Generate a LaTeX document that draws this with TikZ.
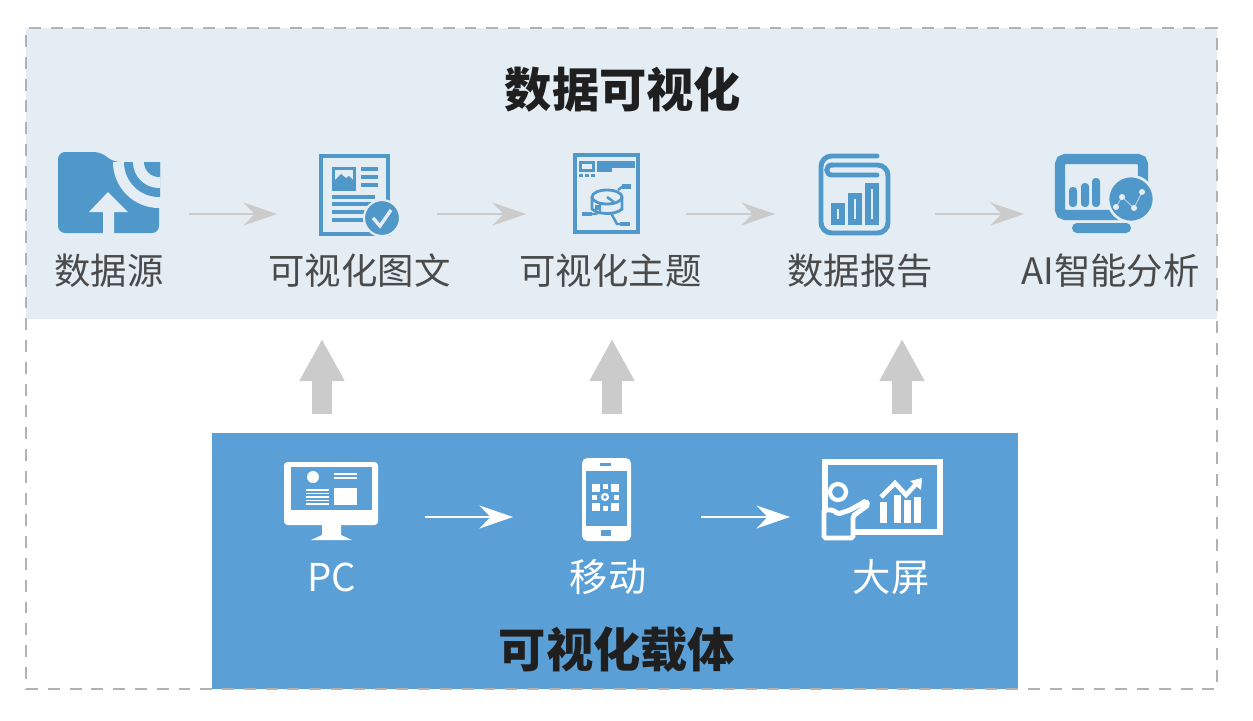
\documentclass[tikz,border=0pt]{standalone}
\usepackage{fontspec}
\setmainfont{Noto Sans CJK SC}
\definecolor{bandbg}{HTML}{E3EDF3}
\definecolor{carrierblue}{HTML}{5AA0D6}
\definecolor{iconblue}{HTML}{5098C9}
\definecolor{flowgray}{HTML}{CBCBCB}
\definecolor{labelgray}{HTML}{4A4A4A}
\usetikzlibrary{arrows.meta, positioning, calc}

\begin{document}
\begin{tikzpicture}[x=0.02cm, y=-0.02cm,
    panel/.style={rectangle, inner sep=0pt, outer sep=0pt},
    slot/.style={rectangle, inner sep=0pt, outer sep=0pt, minimum height=4pt},
    heading/.style={font=\bfseries\fontsize{26.9}{30}\selectfont, text=black!88, inner sep=0pt},
    toplabel/.style={font=\fontsize{20.7}{24}\selectfont, text=labelgray, inner sep=0pt},
    lowlabel/.style={font=\fontsize{21.8}{24}\selectfont, text=white, inner sep=0pt},
    flow/.style={-{Stealth[length=19pt, width=13pt]}, line width=1.5pt, draw=flowgray},
    flowwhite/.style={flow, draw=white},
    blockup/.style={-{Triangle[length=24pt, width=24pt]}, line width=11.3pt, draw=flowgray,
                    shorten <=10.8pt, shorten >=11.3pt},
    iconline/.style={draw=iconblue, line width=2pt},
    whiteline/.style={draw=white, line width=1.7pt}]
  \useasboundingbox (0,0) rectangle (1253,720);

  \node[panel, fill=bandbg, minimum width=1191*0.02cm, minimum height=291*0.02cm] (band) at (621.5,173.5) {};
  \node[panel, fill=carrierblue, minimum width=806*0.02cm, minimum height=256*0.02cm] (carrier) at (615,561) {};
  \node[panel, draw=black!30, dash pattern=on 6.8pt off 5.6pt, line width=1.1pt, minimum width=1191*0.02cm, minimum height=661*0.02cm] (frame) at (621.5,358.5) {};

  \node[heading] (bandtitle) at (623,90) {数据可视化};
  \node[heading] (carriertitle) at (617,650) {可视化载体};

  % slots the arrows run between
  \node[slot, minimum width=160*0.02cm] (source) at (109,214) {};
  \node[slot, minimum width=160*0.02cm] (graphic) at (357,214) {};
  \node[slot, minimum width=160*0.02cm] (topic) at (606,214) {};
  \node[slot, minimum width=160*0.02cm] (report) at (855,214) {};
  \node[slot, minimum width=160*0.02cm] (analysis) at (1104,214) {};
  \node[slot, minimum width=188*0.02cm] (pc) at (331,517) {};
  \node[slot, minimum width=188*0.02cm] (mobile) at (607,517) {};
  \node[slot, minimum width=180*0.02cm] (screen) at (880,517) {};

  \draw[flow] (source) -- (graphic);
  \draw[flow] (graphic) -- (topic);
  \draw[flow] (topic) -- (report);
  \draw[flow] (report) -- (analysis);
  \draw[flowwhite] (pc) -- (mobile);
  \draw[flowwhite] (mobile) -- (screen);
  \foreach \x in {322,612,902}
    \draw[blockup] (\x,0 |- carrier.north) -- (\x,0 |- band.south);

  \node[toplabel] (sourcelabel) at (109,271) {数据源};
  \node[toplabel] (graphiclabel) at (359.5,271) {可视化图文};
  \node[toplabel] (topiclabel) at (610.5,271) {可视化主题};
  \node[toplabel] (reportlabel) at (860,271) {数据报告};
  \node[toplabel] (analysislabel) at (1110.5,271) {AI智能分析};
  \node[lowlabel] (pclabel) at (332,577) {PC};
  \node[lowlabel] (mobilelabel) at (608,577) {移动};
  \node[lowlabel] (screenlabel) at (891,577) {大屏};

  % source icon
  \fill[iconblue, rounded corners=4pt] (58,152) -- (101,152) -- (113,162) -- (159,162) -- (159,233) -- (58,233) -- cycle;
  \begin{scope}
    \clip (100,162) rectangle (160,234);
    \fill[bandbg] (159,162) circle[radius=46];
    \fill[iconblue] (159,162) circle[radius=35];
    \fill[bandbg] (159,162) circle[radius=26];
    \fill[iconblue] (159,162) circle[radius=15];
  \end{scope}
  \fill[bandbg] (108,192) -- (128,212) -- (114,212) -- (114,234) -- (103,234) -- (103,212) -- (89,212) -- cycle;

  % graphic icon
  \draw[iconline, line width=2.4pt] (321,156) rectangle (388,234);
  \fill[iconblue] (332,167) rectangle (356,191);
  \fill[bandbg] (335,170) rectangle (353,180);
  \fill[iconblue] (335,180) -- (341,174) -- (346,178) -- (349,176) -- (353,180) -- cycle;
  \foreach \y in {169,177,185}
    \draw[iconline] (361,\y) -- (378,\y);
  \foreach \y in {197,204,212,220}
    \draw[iconline] (332,\y) -- (375,\y);
  \fill[iconblue, draw=bandbg, line width=1.2pt] (382,218) circle[radius=18];
  \draw[bandbg, line width=1.9pt] (373,218) -- (380,226) -- (391,210);

  % topic icon
  \draw[iconline, line width=1.9pt] (575,155) rectangle (638,232);
  \fill[iconblue] (579,161) rectangle (595,172);
  \fill[bandbg] (582,164) rectangle (592,169);
  \fill[iconblue] (597,161) rectangle (635,168);
  \fill[iconblue] (597,168) rectangle (612,172);
  \foreach \x in {579,585,591}
    \fill[iconblue] (\x,174) rectangle +(4,3);
  \draw[iconline, line width=1.4pt] (618,190) -- (622,187) -- (630,187);
  \fill[iconblue] (622,184) rectangle (631,189);
  \draw[iconline, line width=1.4pt] (611,213) -- (617,224) -- (629,224);
  \fill[iconblue] (620,222) rectangle (630,226);
  \draw[iconline, line width=1.4pt] (600,212) -- (595,214) -- (583,214);
  \fill[iconblue] (582,212) rectangle (592,216);
  \draw[iconline, fill=bandbg, line width=1.6pt] (592,197) -- (592,209) .. controls (598,215) and (616,215) .. (622,209) -- (622,197);
  \draw[iconline, fill=bandbg, line width=1.6pt] (607,197) ellipse[x radius=15, y radius=7];
  \draw[iconline, line width=1.4pt] (600,203) -- (600,212) (607,197) -- (614,202);
  \fill[iconblue] (595,205) rectangle (599,210);

  % report icon
  \draw[iconline, line width=2.8pt, line cap=round, rounded corners=6pt] (877,156) -- (821,156) -- (821,233) -- (888,233) -- (888,165) -- (832,165);
  \draw[iconline, line width=2.8pt, line cap=round] (832,165) .. controls (825,165) and (825,175) .. (832,175) -- (877,175);
  \foreach \x/\y in {831/203,848/193,865/183}{
    \fill[iconblue] (\x,\y) rectangle (\x+14,225);
    \draw[bandbg, line width=0.6pt] (\x+7,\y+6) -- (\x+7,219);
  }

  % analysis icon
  \draw[iconline, line width=5.8pt, rounded corners=3pt] (1060,159) rectangle (1143,215);
  \fill[iconblue, rounded corners=2.8pt] (1072,223) rectangle (1131,233);
  \foreach \x/\y in {1069/187,1081/183,1092/178}
    \fill[iconblue, rounded corners=2pt] (\x,\y) rectangle (\x+8,207);
  \fill[iconblue, draw=bandbg, line width=1.5pt] (1131,199) circle[radius=23];
  \draw[bandbg!70!iconblue, line width=0.5pt] (1116,207) -- (1122,197) -- (1134,208) -- (1142,192);
  \foreach \x/\y in {1122/197,1142/192,1134/208,1116/207}
    \fill[bandbg] (\x,\y) circle[radius=3];

  % pc icon
  \fill[white, rounded corners=2pt] (284,462) rectangle (378,525);
  \fill[carrierblue] (291,467) rectangle (372,510);
  \fill[white] (322,525) -- (341,525) -- (341,535) -- (352,540) -- (311,540) -- (322,535) -- cycle;
  \fill[white] (313,477) circle[radius=6];
  \draw[white, line width=1.2pt] (334,474) -- (357,474) (334,478) -- (357,478);
  \foreach \y in {490,493.5,497,500.5,504}
    \draw[white, line width=1.1pt] (306,\y) -- (329,\y);
  \fill[white] (334,488) rectangle (357,505);

  % mobile icon
  \fill[white, rounded corners=3pt] (582,458) rectangle (631,541);
  \fill[carrierblue] (586,471) rectangle (627,526);
  \fill[carrierblue] (600,463) rectangle (611,466);
  \fill[carrierblue] (601,530) rectangle (611,536);
  \foreach \x/\y in {592/484,611/484,592/503,611/503}
    \fill[white] (\x,\y) rectangle (\x+8,\y+8);
  \foreach \x/\y in {605/486,605/508,594/497,616/497}
    \fill[white] (\x-2.5,\y-2.5) rectangle (\x+2.5,\y+2.5);
  \draw[white, line width=1.2pt] (605,497) circle[radius=3];

  % big screen icon
  \draw[whiteline, line width=3.4pt] (825,510) -- (825,462) -- (940,462) -- (940,532) -- (853,532);
  \draw[whiteline, line width=2.4pt, fill=carrierblue] (838,492) circle[radius=8];
  \draw[whiteline, line width=2.8pt, fill=carrierblue, rounded corners=1pt] (824,510) -- (833,510) -- (838,514) -- (850,510) -- (866,501) -- (868,505) -- (853,516) -- (853,538) -- (824,538) -- cycle;
  \foreach \x/\y in {883/502,897/495,907/500,917/497}
    \fill[white] (\x-3.5,\y) rectangle (\x+3.5,523);
  \draw[white, line width=2.6pt] (881,497) -- (895,483) -- (906,495) -- (917,483);
  \fill[white] (922,478) -- (921,490) -- (910,481) -- cycle;
\end{tikzpicture}
\end{document}
